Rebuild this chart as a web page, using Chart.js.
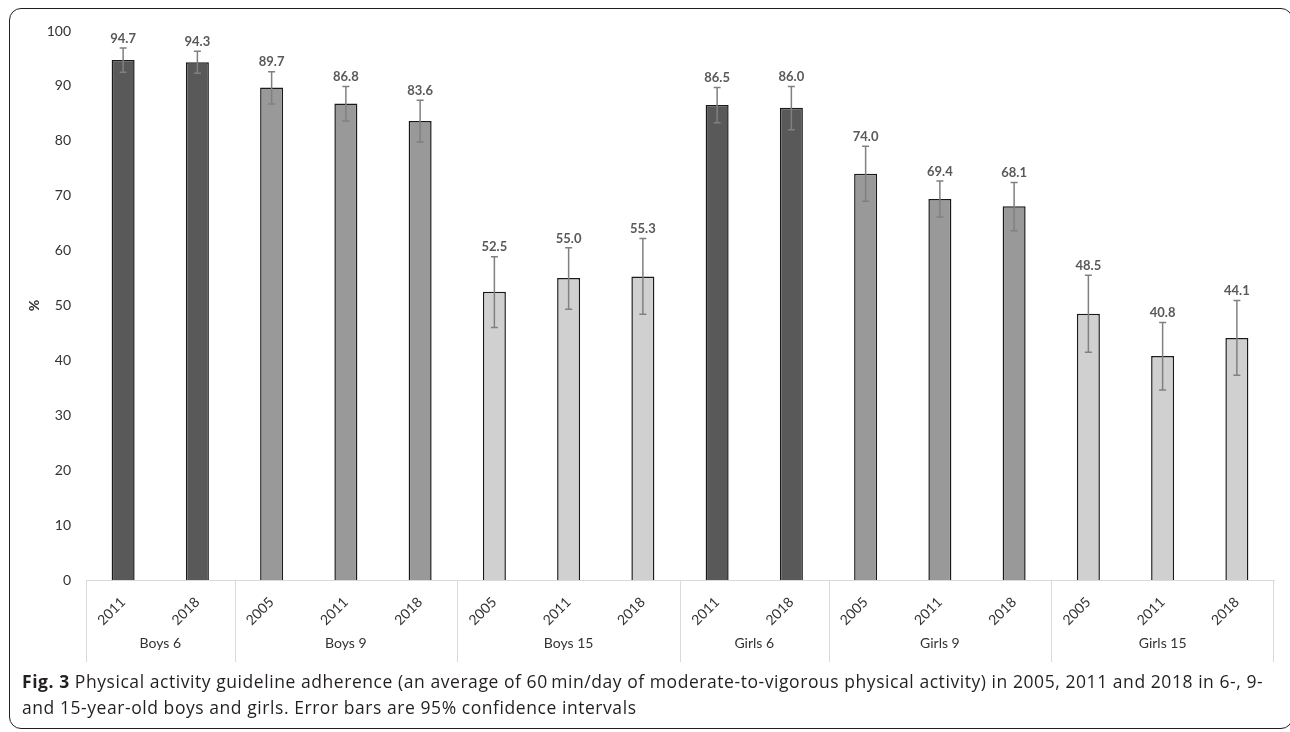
<!DOCTYPE html>
<html>
<head>
<meta charset="utf-8">
<script src="https://cdn.jsdelivr.net/npm/chart.js@4.4.1/dist/chart.umd.min.js"></script>
<style>
    body { margin: 0; background: #fff; width: 1290px; height: 732px; overflow: hidden; position: relative; }
    #frame { position: absolute; left: 9px; top: 8px; width: 1284px; height: 721px; border: 1.5px solid #231f20; border-radius: 12px; box-sizing: border-box; }
    #wrap { position: absolute; left: 0; top: 0; width: 1290px; height: 670px; }
    #caption { position: absolute; left: 22px; top: 668px; font-family: 'Open Sans', sans-serif; font-size: 17.5px; letter-spacing: 0.56px; line-height: 26px; color: #231f20; white-space: nowrap; }
    #caption b { font-weight: 700; }
</style>
</head>
<body>
<div id="frame"></div>
<div id="wrap"><canvas id="adherenceChart"></canvas></div>
<div id="caption"><b>Fig. 3</b> Physical activity guideline adherence (an average of 60&#8201;min/day of moderate-to-vigorous physical activity) in 2005, 2011 and 2018 in 6-, 9-<br>and 15-year-old boys and girls. Error bars are 95% confidence intervals</div>

<script>
// Data
const groups = ['Boys 6', 'Boys 9', 'Boys 15', 'Girls 6', 'Girls 9', 'Girls 15'];
const groupOf = [0, 0, 1, 1, 1, 2, 2, 2, 3, 3, 4, 4, 4, 5, 5, 5];
const years = ['2011', '2018', '2005', '2011', '2018', '2005', '2011', '2018',
               '2011', '2018', '2005', '2011', '2018', '2005', '2011', '2018'];
const values = [94.7, 94.3, 89.7, 86.8, 83.6, 52.5, 55.0, 55.3,
                86.5, 86.0, 74.0, 69.4, 68.1, 48.5, 40.8, 44.1];
const ciLow = [92.5, 92.3, 86.7, 83.6, 79.8, 46.0, 49.3, 48.4,
               83.3, 82.0, 69.0, 66.1, 63.6, 41.5, 34.6, 37.3];
const ciHigh = [96.9, 96.3, 92.6, 89.9, 87.4, 58.9, 60.5, 62.2,
                89.7, 89.9, 79.0, 72.7, 72.4, 55.5, 46.9, 50.9];

// warna per umur (6, 9, 15)
const ageColors = ['#595959', '#999999', '#d0d0d0'];

// Error bars + data labels
const errorBarPlugin = {
    id: 'errorBars',
    afterDatasetsDraw(chart) {
        const ctx = chart.ctx;
        const y = chart.scales.y;
        const bars = chart.getDatasetMeta(0).data;
        ctx.save();
        bars.forEach((bar, i) => {
            const top = y.getPixelForValue(ciHigh[i]);
            const bot = y.getPixelForValue(ciLow[i]);
            ctx.strokeStyle = '#808080';
            ctx.lineWidth = 1.5;
            ctx.beginPath();
            ctx.moveTo(bar.x, top); ctx.lineTo(bar.x, bot);
            ctx.moveTo(bar.x - 3.5, top); ctx.lineTo(bar.x + 3.5, top);
            ctx.moveTo(bar.x - 3.5, bot); ctx.lineTo(bar.x + 3.5, bot);
            ctx.stroke();

            ctx.fillStyle = '#595959';
            ctx.font = 'bold 13px Lato';
            ctx.textAlign = 'center';
            ctx.textBaseline = 'bottom';
            ctx.fillText(values[i].toFixed(1), bar.x, top - 3);
        });
        ctx.restore();
    }
};

// Group boxes di bawah sumbu x
const groupAxisPlugin = {
    id: 'groupAxis',
    afterDraw(chart) {
        const ctx = chart.ctx;
        const x = chart.scales.x;
        const step = (x.right - x.left) / years.length;
        const base = chart.chartArea.bottom;
        ctx.save();
        ctx.strokeStyle = '#d9d9d9';
        ctx.lineWidth = 1;
        ctx.fillStyle = '#333333';
        ctx.font = '14px Lato';
        ctx.textAlign = 'center';
        ctx.textBaseline = 'middle';
        groups.forEach((g, gi) => {
            const first = groupOf.indexOf(gi);
            const last = groupOf.lastIndexOf(gi);
            const left = x.left + first * step;
            const right = x.left + (last + 1) * step;
            ctx.beginPath();
            ctx.moveTo(Math.round(left) + 0.5, base);
            ctx.lineTo(Math.round(left) + 0.5, base + 82);
            ctx.stroke();
            if (gi === groups.length - 1) {
                ctx.beginPath();
                ctx.moveTo(Math.round(right) - 0.5, base);
                ctx.lineTo(Math.round(right) - 0.5, base + 82);
                ctx.stroke();
            }
            ctx.fillText(g, (left + right) / 2, base + 63);
        });
        ctx.restore();
    }
};

const ctx = document.getElementById('adherenceChart').getContext('2d');
new Chart(ctx, {
    type: 'bar',
    data: {
        labels: years,
        datasets: [{
            data: values,
            backgroundColor: groupOf.map(g => ageColors[g % 3]),
            borderColor: '#1a1a1a',
            borderWidth: 1.5,
            barPercentage: 0.31,
            categoryPercentage: 1
        }]
    },
    options: {
        responsive: true,
        maintainAspectRatio: false,
        animation: false,
        layout: { padding: { top: 31, right: 16, left: 0, bottom: 0 } },
        plugins: {
            legend: { display: false },
            tooltip: { enabled: false }
        },
        scales: {
            y: {
                min: 0,
                max: 100,
                afterFit: (scale) => { scale.width = 86; },
                ticks: { stepSize: 10, color: '#333333', font: { family: 'Lato', size: 14 }, padding: 7 },
                grid: { display: false },
                border: { display: false },
                title: {
                    display: true,
                    text: '%',
                    color: '#333333',
                    font: { family: 'Lato', size: 14, weight: 'bold' },
                    padding: { top: 26, bottom: 0 }
                }
            },
            x: {
                afterFit: (scale) => { scale.height = 90; },
                ticks: {
                    color: '#333333',
                    font: { family: 'Lato', size: 14 },
                    minRotation: 45,
                    maxRotation: 45,
                    autoSkip: false,
                    padding: 6
                },
                grid: { display: false },
                border: { display: true, color: '#d9d9d9', width: 1 }
            }
        }
    },
    plugins: [errorBarPlugin, groupAxisPlugin]
});
</script>
</body>
</html>
